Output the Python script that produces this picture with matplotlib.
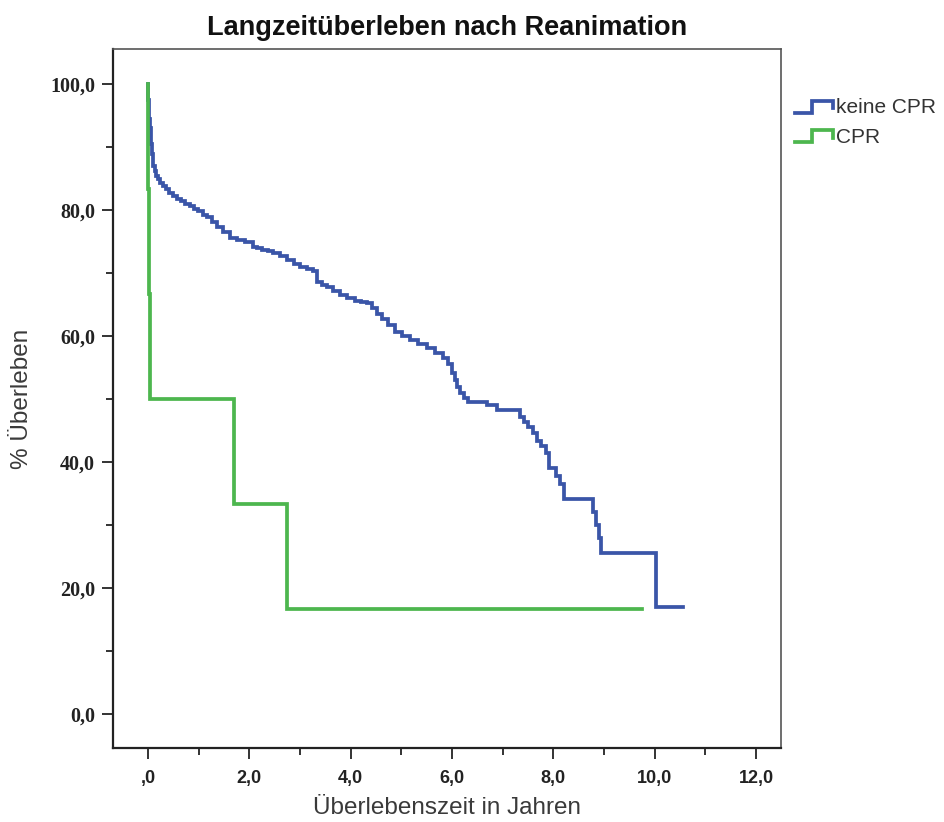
import numpy as np
import matplotlib
matplotlib.use("Agg")
import matplotlib.pyplot as plt
from matplotlib.lines import Line2D
from matplotlib.legend_handler import HandlerBase

# Kaplan-Meier steps (years, % survival)
keine_t = [0.00, 0.01, 0.02, 0.03, 0.04, 0.05, 0.06, 0.08, 0.10, 0.13, 0.16, 0.20,
           0.24, 0.30, 0.36, 0.42, 0.49, 0.57, 0.65, 0.74, 0.83, 0.91, 0.99, 1.08,
           1.16, 1.26, 1.36, 1.48, 1.62, 1.76, 1.91, 2.07, 2.16, 2.25, 2.36, 2.47,
           2.61, 2.74, 2.88, 3.00, 3.13, 3.26, 3.34, 3.43, 3.53, 3.65, 3.79, 3.93,
           4.09, 4.20, 4.32, 4.42, 4.52, 4.62, 4.74, 4.87, 5.01, 5.17, 5.33, 5.51,
           5.66, 5.82, 5.92, 6.00, 6.06, 6.10, 6.16, 6.24, 6.32, 6.69, 6.89, 7.34,
           7.42, 7.50, 7.60, 7.68, 7.76, 7.86, 7.91, 8.05, 8.13, 8.21, 8.78, 8.84,
           8.90, 8.94, 10.03, 10.56]
keine_s = [100.0, 97.5, 96.0, 94.5, 93.0, 91.5, 90.5, 89.0, 87.0, 86.2, 85.5, 84.9,
           84.3, 83.8, 83.3, 82.8, 82.2, 81.8, 81.4, 81.0, 80.6, 80.2, 79.8, 79.3,
           78.9, 78.1, 77.3, 76.5, 75.6, 75.3, 75.0, 74.2, 74.0, 73.7, 73.5, 73.2,
           72.7, 72.1, 71.5, 71.0, 70.6, 70.3, 68.6, 68.2, 67.8, 67.1, 66.6, 66.0,
           65.6, 65.4, 65.2, 64.4, 63.5, 62.7, 61.7, 60.7, 60.0, 59.4, 58.7, 58.1,
           57.4, 56.6, 55.5, 54.2, 53.1, 52.0, 51.0, 50.2, 49.6, 49.0, 48.3, 47.2,
           46.4, 45.6, 44.6, 43.4, 42.5, 41.4, 39.0, 37.8, 36.5, 34.2, 32.0, 30.0,
           27.9, 25.5, 17.0, 17.0]

cpr_t = [0.00, 0.01, 0.02, 0.04, 1.70, 2.74, 9.75]
cpr_s = [100.0, 83.3, 66.7, 50.0, 33.3, 16.7, 16.7]

x_ticks = [0, 2, 4, 6, 8, 10, 12]
x_labels = [",0", "2,0", "4,0", "6,0", "8,0", "10,0", "12,0"]
y_ticks = [0, 20, 40, 60, 80, 100]
y_labels = ["0,0", "20,0", "40,0", "60,0", "80,0", "100,0"]

blue = "#3a55a8"
green = "#4db64e"


class StepHandler(HandlerBase):
    # legend symbol drawn as a little step, like SPSS does
    def create_artists(self, legend, orig_handle, xdescent, ydescent,
                       width, height, fontsize, trans):
        w, h = width, height
        xs = [-xdescent, 0.45 * w, 0.45 * w, w, w]
        ys = [0.05 * h, 0.05 * h, 0.85 * h, 0.85 * h, 0.35 * h]
        line = Line2D(xs, ys, color=orig_handle.get_color(),
                      lw=orig_handle.get_linewidth(), transform=trans,
                      solid_joinstyle="miter")
        return [line]


fig = plt.figure(figsize=(9.45, 8.22), dpi=100)
ax = fig.add_axes([113 / 945, 74 / 822, (781 - 113) / 945, (748 - 49) / 822])

l1, = ax.step(keine_t, keine_s, where="post", color=blue, lw=2.7,
              solid_joinstyle="miter", label="keine CPR")
l2, = ax.step(cpr_t, cpr_s, where="post", color=green, lw=2.7,
              solid_joinstyle="miter", label="CPR")

ax.set_xlim(-0.69, 12.49)
ax.set_ylim(-5.4, 105.6)

ax.set_xticks(x_ticks)
ax.set_xticklabels(x_labels, family="Liberation Sans", weight="bold",
                   size=13, color="#222222")
ax.set_xticks([1, 3, 5, 7, 9, 11], minor=True)
ax.set_yticks(y_ticks)
ax.set_yticklabels(y_labels, family="Liberation Serif", weight="bold",
                   size=14.5, color="#222222")
ax.set_yticks([10, 30, 50, 70, 90], minor=True)
ax.tick_params(which="major", length=8, width=1.4, color="#333333", pad=5)
ax.tick_params(axis="x", which="major", pad=8)
ax.tick_params(which="minor", length=5, width=1.4, color="#333333")

for side in ["left", "bottom"]:
    ax.spines[side].set_color("#222222")
    ax.spines[side].set_linewidth(1.6)
for side in ["top", "right"]:
    ax.spines[side].set_color("#555555")
    ax.spines[side].set_linewidth(1.2)

ax.set_xlabel("Überlebenszeit in Jahren", family="Liberation Sans",
              size=17.5, color="#3a3a3a", labelpad=7)
ax.set_ylabel("% Überleben", family="Liberation Sans",
              size=17.5, color="#3a3a3a", labelpad=12)
ax.set_title("Langzeitüberleben nach Reanimation", family="Liberation Sans",
             weight="bold", size=19.5, color="#111111", pad=10)

leg = fig.legend(handles=[l1, l2], loc="upper left",
                 bbox_to_anchor=(785 / 945, 1 - 88 / 822),
                 handler_map={Line2D: StepHandler()},
                 frameon=False, handlelength=1.8, handletextpad=0.15,
                 labelspacing=0.5, borderpad=0,
                 prop={"family": "Liberation Sans", "size": 15})
for t in leg.get_texts():
    t.set_color("#333333")

fig.savefig("out.png", dpi=100)
